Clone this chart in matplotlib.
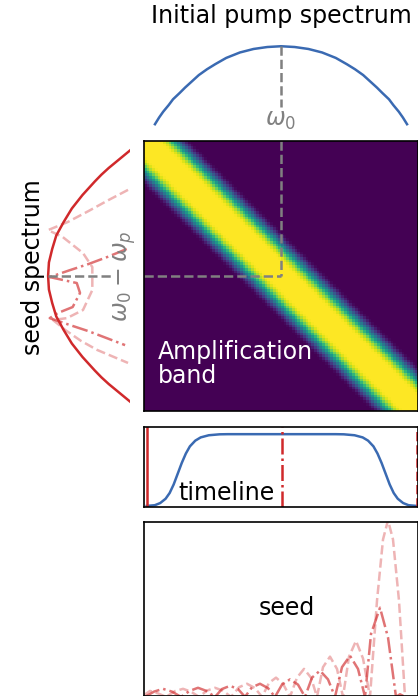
import matplotlib
matplotlib.use("Agg")
import matplotlib.pyplot as plt
import numpy as np

W, H = 418, 696

RED = "#d0292b"
BLUE = "#3a6ab2"
GRAY = "#808080"

# pump spectrum (frequency, intensity)
pump_f = [0.04, 0.055, 0.07, 0.09, 0.106, 0.13, 0.15, 0.175, 0.20, 0.23, 0.26,
          0.30, 0.35, 0.40, 0.45, 0.50, 0.55, 0.60, 0.65, 0.70, 0.74, 0.77,
          0.80, 0.825, 0.85, 0.87, 0.894, 0.91, 0.93, 0.945, 0.96]
pump_i = [0.0, 0.085, 0.16, 0.245, 0.32, 0.40, 0.47, 0.55, 0.63, 0.705, 0.77,
          0.85, 0.92, 0.965, 0.99, 1.0, 0.99, 0.965, 0.92, 0.85, 0.77, 0.705,
          0.63, 0.55, 0.47, 0.40, 0.32, 0.245, 0.16, 0.085, 0.0]

# seed spectra (intensity, frequency) - initial / middle / end
seed0_f = [0.035, 0.05, 0.075, 0.10, 0.125, 0.15, 0.20, 0.25, 0.30, 0.35, 0.40,
           0.45, 0.50, 0.55, 0.60, 0.65, 0.70, 0.75, 0.80, 0.85, 0.875, 0.90,
           0.925, 0.95, 0.965]
seed0_i = [0.0, 0.06, 0.16, 0.26, 0.35, 0.43, 0.58, 0.71, 0.81, 0.90, 0.95,
           0.99, 1.0, 0.99, 0.95, 0.90, 0.81, 0.71, 0.58, 0.43, 0.35, 0.26,
           0.16, 0.06, 0.0]
seed1_f = [0.60, 0.57, 0.544, 0.52, 0.496, 0.474, 0.437, 0.385, 0.363, 0.344,
           0.32, 0.296, 0.244]
seed1_i = [0.04, 0.28, 0.51, 0.75, 0.98, 0.65, 0.61, 0.70, 0.88, 0.98, 0.75,
           0.51, 0.06]
seed2_f = [0.819, 0.78, 0.74, 0.70, 0.670, 0.644, 0.585, 0.533, 0.448, 0.374,
           0.344, 0.337, 0.30, 0.26, 0.226, 0.178]
seed2_i = [0.024, 0.27, 0.51, 0.76, 1.0, 0.82, 0.574, 0.46, 0.46, 0.574, 0.77,
           0.94, 0.79, 0.60, 0.40, 0.024]

# gain band across diagonal offset (cells)
band_profile = [1.0, 1.0, 1.0, 1.0, 1.0, 1.0, 0.99, 0.95, 0.88, 0.78, 0.66,
                0.53, 0.40, 0.28, 0.17, 0.08, 0.02]
n_cells = 100

# pump envelope in time
time_t = [0.0, 0.03, 0.05, 0.07, 0.085, 0.10, 0.115, 0.13, 0.145, 0.16, 0.18,
          0.20, 0.23, 0.27, 0.30, 0.70, 0.73, 0.77, 0.80, 0.82, 0.84, 0.855,
          0.87, 0.885, 0.90, 0.915, 0.93, 0.95, 0.97, 1.0]
time_v = [0.0, 0.01, 0.04, 0.10, 0.18, 0.30, 0.45, 0.60, 0.73, 0.83, 0.91,
          0.955, 0.985, 0.998, 1.0, 1.0, 0.998, 0.985, 0.955, 0.91, 0.83, 0.73,
          0.60, 0.45, 0.30, 0.18, 0.10, 0.04, 0.01, 0.0]
seed_times = [0.0, 0.5, 1.0]

# seed output at middle (dash-dot) and end (dashed)
out1_x = [145, 154, 163, 172, 181, 190, 198, 206, 215, 222, 230, 238, 245, 252,
          260, 268, 275, 282, 290, 298, 305, 312, 320, 328, 335, 342, 350, 358,
          365, 371, 380, 388, 396, 400, 405, 418]
out1_v = [0.0, 0.03, 0.046, 0.03, 0.0, 0.035, 0.052, 0.035, 0.0, 0.045, 0.063,
          0.045, 0.0, 0.055, 0.075, 0.05, 0.0, 0.07, 0.10, 0.07, 0.0, 0.11, 0.15,
          0.10, 0.0, 0.17, 0.235, 0.16, 0.0, 0.36, 0.51, 0.34, 0.0, 0.015, 0.0,
          -0.02]
out2_x = [144, 150, 158, 166, 175, 183, 191, 199, 207, 215, 223, 231, 239, 247,
          255, 262, 269, 276, 283, 290, 297, 304, 311, 317, 323, 330, 337, 343,
          349, 356, 363, 370, 377, 383, 388, 393, 399, 405, 418]
out2_v = [0.01, 0.034, 0.02, 0.0, 0.033, 0.046, 0.03, 0.0, 0.036, 0.052, 0.035,
          0.0, 0.055, 0.075, 0.05, 0.0, 0.08, 0.11, 0.075, 0.0, 0.11, 0.16, 0.11,
          0.0, 0.17, 0.23, 0.16, 0.0, 0.23, 0.32, 0.22, 0.0, 0.55, 0.9, 1.01, 0.9,
          0.55, 0.0, 0.0]


def px_axes(fig, x0, y0, x1, y1):
    return fig.add_axes([x0 / W, 1 - y1 / H, (x1 - x0) / W, (y1 - y0) / H])


fig = plt.figure(figsize=(W / 100, H / 100), dpi=100)
fs = 17
lw = 1.8

# heatmap
ax_map = px_axes(fig, 144, 141, 418, 411)
idx = np.arange(n_cells)
offset = np.abs(idx[:, None] - idx[None, :])
prof = np.array(band_profile + [0.0])
img = prof[np.minimum(offset, len(band_profile))]
ax_map.imshow(img, cmap="viridis", extent=[0, 1, 0, 1], aspect="auto",
              interpolation="nearest", vmin=0, vmax=1)
ax_map.plot([0.5, 0.5], [1.0, 0.5], ls="--", color=GRAY, lw=1.8)
ax_map.plot([0.0, 0.5], [0.5, 0.5], ls="--", color=GRAY, lw=1.8)
ax_map.set_xlim(0, 1)
ax_map.set_ylim(0, 1)
ax_map.set_xticks([])
ax_map.set_yticks([])
for s in ax_map.spines.values():
    s.set_linewidth(1.2)
ax_map.text(0.051, 0.174, "Amplification\nband", color="white", fontsize=fs,
            ha="left", va="center", linespacing=1.0)

# pump spectrum
ax_pump = px_axes(fig, 144, 40, 418, 132)
ax_pump.plot(pump_f, pump_i, color=BLUE, lw=lw)
ax_pump.plot([0.5, 0.5], [1.0, 0.22], ls="--", color=GRAY, lw=1.8)
ax_pump.text(0.5, 0.06, r"$\omega_0$", color=GRAY, fontsize=fs,
             ha="center", va="center")
ax_pump.set_xlim(0, 1)
ax_pump.set_ylim(-0.1, 1.08)
ax_pump.axis("off")
ax_pump.set_title("Initial pump spectrum", fontsize=fs, pad=12)

# seed spectrum
ax_seed = px_axes(fig, 44, 141, 130, 411)
ax_seed.plot(seed0_i, seed0_f, color=RED, lw=lw)
ax_seed.plot(seed1_i, seed1_f, color=RED, lw=lw, ls="-.", alpha=0.65)
ax_seed.plot(seed2_i, seed2_f, color=RED, lw=lw, ls="--", alpha=0.35)
ax_seed.plot([1.0, 0.22], [0.5, 0.5], ls="--", color=GRAY, lw=1.8)
ax_seed.text(0.06, 0.5, r"$\omega_0 - \omega_p$", color=GRAY, fontsize=fs,
             rotation=90, ha="center", va="center")
ax_seed.set_xlim(1.05, 0)
ax_seed.set_ylim(0, 1)
ax_seed.axis("off")
fig.text(33 / W, 1 - 267 / H, "seed spectrum", rotation=90, fontsize=fs,
         ha="center", va="center")

# timeline
ax_time = px_axes(fig, 144, 427, 418, 507)
ax_time.plot(time_t, time_v, color=BLUE, lw=lw)
for t, ls in zip(seed_times, ["-", "-.", "--"]):
    ax_time.axvline(t, color=RED, lw=1.8, ls=ls)
ax_time.text(0.297, 0.18, "timeline", fontsize=fs, ha="center", va="center")
ax_time.set_xlim(-0.01, 1.005)
ax_time.set_ylim(-0.015, 1.1)
ax_time.set_xticks([])
ax_time.set_yticks([])
for s in ax_time.spines.values():
    s.set_linewidth(1.2)

# seed output
ax_out = px_axes(fig, 144, 522, 418, 696)
ax_out.plot(out1_x, out1_v, color=RED, lw=lw, ls="-.", alpha=0.65)
ax_out.plot(out2_x, out2_v, color=RED, lw=lw, ls="--", alpha=0.35)
ax_out.text(287, 0.51, "seed", fontsize=fs, ha="center", va="center")
ax_out.set_xlim(144, 418)
ax_out.set_ylim(0.005, 1.0)
ax_out.set_xticks([])
ax_out.set_yticks([])
for s in ax_out.spines.values():
    s.set_linewidth(1.2)

fig.savefig("out.png", dpi=100)
